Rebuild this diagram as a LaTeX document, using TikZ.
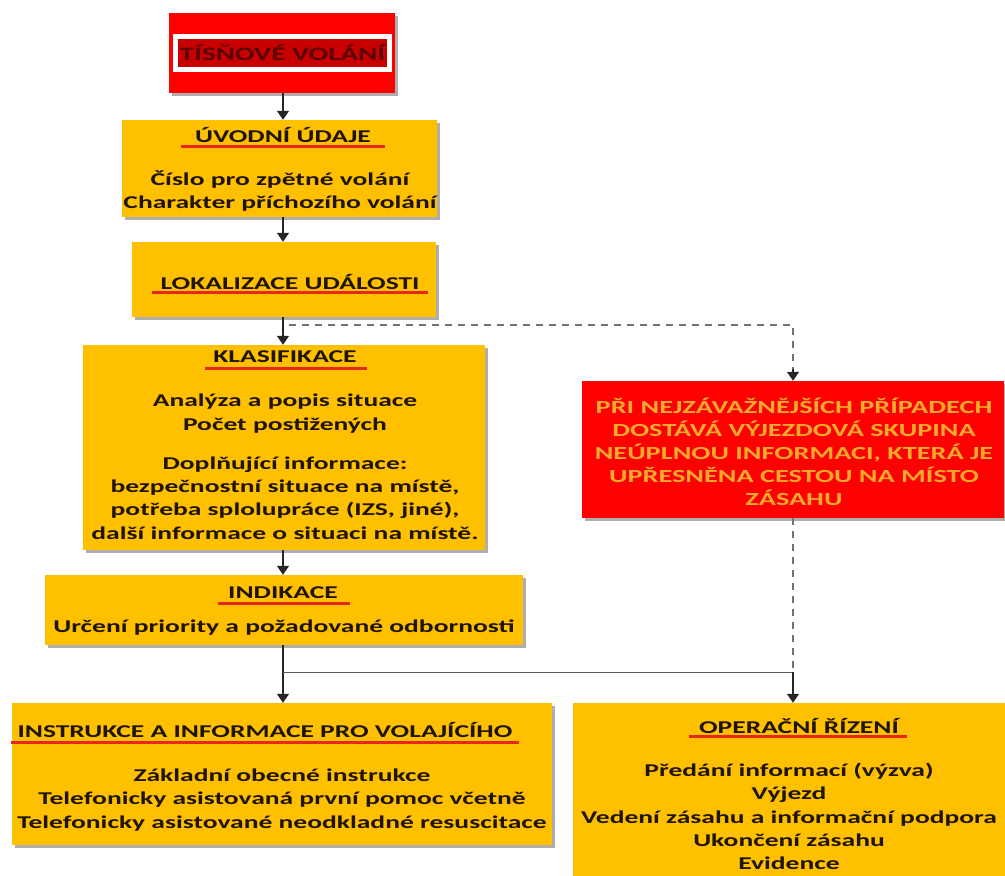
\documentclass[tikz,border=0pt]{standalone}
\usepackage{fontspec}
\setmainfont{Carlito}[FakeStretch=1.53]
\usetikzlibrary{arrows.meta,shadows}
\definecolor{gold}{HTML}{FFC000}
\definecolor{bred}{HTML}{FF0000}
\definecolor{dred}{HTML}{C80000}
\definecolor{tred}{HTML}{5A0000}
\definecolor{txt}{HTML}{1E1400}
\definecolor{otxt}{HTML}{F5AA2A}
\definecolor{ulred}{HTML}{E8281C}
\begin{document}
\begin{tikzpicture}[x=1pt,y=-1pt,
  shd/.style={drop shadow={shadow xshift=2.5pt,shadow yshift=-2.5pt,opacity=.45,fill=black!70}},
  ybox/.style={rectangle,fill=gold,inner sep=0pt,shd},
  rbox/.style={rectangle,fill=bred,inner sep=0pt,shd},
  ttl/.style={inner sep=0pt,text=txt,font=\bfseries\fontsize{18}{23.3}\selectfont},
  body/.style={inner sep=0pt,align=center,text=txt,font=\bfseries\fontsize{18}{23.3}\selectfont},
  rtxt/.style={inner sep=0pt,align=center,text=otxt,font=\bfseries\fontsize{18.5}{23}\selectfont},
  uline/.style={draw=ulred,line width=3pt},
  arr/.style={draw=black!85,line width=1.3pt,-{Triangle[width=12pt,length=9pt]}},
  dsh/.style={draw=black!55,line width=1.6pt,dash pattern=on 7pt off 6pt},
  thinln/.style={draw=black!65,line width=1pt}]
\useasboundingbox (0,0) rectangle (1005,876);
\coordinate (col) at (283,0);

% emergency call
\node[rbox,minimum width=226pt,minimum height=80pt] (tis) at (282,53) {};
\node[rectangle,fill=dred,draw=white,line width=5pt,minimum width=214pt,minimum height=33pt,inner sep=0pt,
      text=tred,font=\bfseries\fontsize{19}{20}\selectfont] (tisT) at (282.5,53) {TÍSŇOVÉ VOLÁNÍ};

% uvodni udaje
\node[ybox,minimum width=315pt,minimum height=97pt] (uvod) at (279.5,168.5) {};
\node[ttl] (uvodT) at (283,135) {ÚVODNÍ ÚDAJE};
\draw[uline] ([xshift=-14pt,yshift=-11pt]uvodT.west) -- ([xshift=14pt,yshift=-11pt]uvodT.east);
\node[body] (uvodB) at (280,191) {Číslo pro zpětné volání\\Charakter příchozího volání};

% lokalizace
\node[ybox,minimum width=304pt,minimum height=75pt] (lok) at (284,279.5) {};
\node[ttl] (lokT) at (290,282) {LOKALIZACE UDÁLOSTI};
\draw[uline] ([xshift=-8pt,yshift=-10pt]lokT.west) -- ([xshift=8pt,yshift=-10pt]lokT.east);

% klasifikace
\node[ybox,minimum width=402pt,minimum height=205pt] (klas) at (284,447.5) {};
\node[ttl] (klasT) at (285,357) {KLASIFIKACE};
\draw[uline] ([xshift=-8pt,yshift=-11pt]klasT.west) -- ([xshift=10pt,yshift=-11pt]klasT.east);
\node[body] (klasB1) at (285,413.5) {Analýza a popis situace\\Počet postižených};
\node[body] (klasB2) at (285,498) {Doplňující informace:\\bezpečnostní situace na místě,\\potřeba splolupráce (IZS, jiné),\\další informace o situaci na místě.};

% indikace
\node[ybox,minimum width=478pt,minimum height=70pt] (ind) at (284,610) {};
\node[ttl] (indT) at (283,593) {INDIKACE};
\draw[uline] ([xshift=-10pt,yshift=-10pt]indT.west) -- ([xshift=12pt,yshift=-10pt]indT.east);
\node[body] (indB) at (284,628) {Určení priority a požadované odbornosti};

% red box
\node[rbox,minimum width=422pt,minimum height=137pt] (red) at (793,449.5) {};
\node[rtxt] (redB) at (794,452) {PŘI NEJZÁVAŽNĚJŠÍCH PŘÍPADECH\\DOSTÁVÁ VÝJEZDOVÁ SKUPINA\\NEÚPLNOU INFORMACI, KTERÁ JE\\UPŘESNĚNA CESTOU NA MÍSTO\\ZÁSAHU};

% instrukce
\node[ybox,minimum width=540pt,minimum height=142pt] (instr) at (282,774) {};
\node[ttl] (instrT) at (265,730) {INSTRUKCE A INFORMACE PRO VOLAJÍCÍHO};
\draw[uline] ([xshift=-6pt,yshift=-12pt]instrT.west) -- ([xshift=6pt,yshift=-12pt]instrT.east);
\node[body] (instrB) at (282,800) {Základní obecné instrukce\\Telefonicky asistovaná první pomoc včetně\\Telefonicky asistované neodkladné resuscitace};

% operacni rizeni
\node[ybox,minimum width=440pt,minimum height=180pt] (oper) at (793,793) {};
\node[ttl] (operT) at (799,726) {OPERAČNÍ ŘÍZENÍ};
\draw[uline] ([xshift=-10pt,yshift=-10pt]operT.west) -- ([xshift=8pt,yshift=-10pt]operT.east);
\node[body] (operB) at (789,816.5) {Předání informací (výzva)\\Výjezd\\Vedení zásahu a informační podpora\\Ukončení zásahu\\Evidence};

% connectors
\draw[arr] (col |- tis.south) -- (col |- uvod.north);
\draw[arr] (col |- uvod.south) -- (col |- lok.north);
\draw[arr] (col |- lok.south) -- (col |- klas.north);
\draw[arr] (col |- klas.south) -- (col |- ind.north);
\draw[arr] (col |- ind.south) -- (col |- instr.north);
\coordinate (d0) at (289,325);
\draw[dsh] (d0) -| ([yshift=10pt]red.north);
\draw[arr] ([yshift=12pt]red.north) -- (red.north);
\coordinate (br) at (283,672);
\draw[dsh] (red.south) -- (red.south |- br);
\draw[thinln] (br) -- (red.south |- br);
\draw[arr] (red.south |- br) -- (oper.north);
\end{tikzpicture}
\end{document}
